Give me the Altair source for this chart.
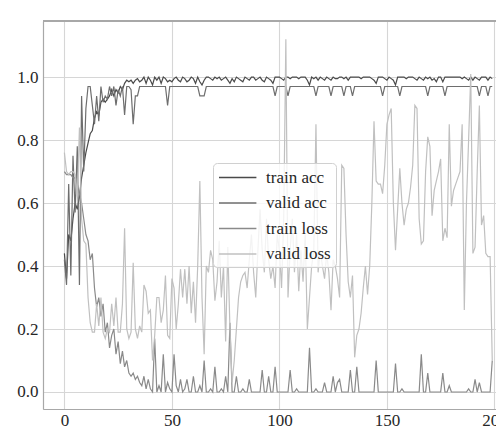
import altair as alt
import pandas as pd

epochs = list(range(200))

train_acc = [
    0.44, 0.36, 0.50, 0.48, 0.55, 0.60, 0.58, 0.62, 0.68, 0.72,
    0.76, 0.79, 0.82, 0.83, 0.87, 0.89, 0.88, 0.92, 0.93, 0.92,
    0.93, 0.94, 0.96, 0.94, 0.96, 0.95, 0.97, 0.96, 0.98, 0.99,
    0.985, 0.99, 0.98, 0.99, 0.995, 0.985, 0.99, 1.0, 0.98, 1.0,
    0.99, 0.975, 1.0, 0.99, 1.0, 0.98, 1.0, 0.995, 0.985, 0.99,
    0.985, 0.995, 1.0, 0.99, 0.985, 1.0, 0.995, 0.985, 0.99, 1.0,
    0.995, 0.98, 1.0, 0.985, 0.975, 0.99, 1.0, 1.0, 0.995, 0.99,
    1.0, 0.995, 1.0, 0.99, 0.995, 1.0, 0.99, 0.98, 0.995, 0.985,
    1.0, 0.995, 0.99, 0.985, 1.0, 0.995, 0.99, 1.0, 1.0, 0.99,
    0.995, 1.0, 0.99, 0.985, 1.0, 0.995, 0.99, 0.98, 1.0, 1.0,
    1.0, 0.995, 0.99, 1.0, 1.0, 0.995, 1.0, 1.0, 1.0, 0.995,
    1.0, 1.0, 1.0, 0.99, 0.975, 1.0, 0.995, 1.0, 0.99, 1.0,
    0.995, 0.99, 1.0, 0.995, 0.99, 1.0, 0.995, 0.995, 1.0, 1.0,
    0.995, 1.0, 0.99, 1.0, 1.0, 1.0, 1.0, 1.0, 0.995, 1.0,
    1.0, 1.0, 1.0, 0.995, 0.99, 0.98, 1.0, 1.0, 1.0, 0.995,
    0.99, 1.0, 0.995, 0.99, 0.975, 1.0, 1.0, 1.0, 1.0, 0.995,
    1.0, 1.0, 1.0, 0.995, 0.99, 1.0, 0.995, 0.99, 1.0, 0.995,
    1.0, 0.99, 0.995, 0.985, 1.0, 1.0, 0.985, 1.0, 1.0, 1.0,
    1.0, 1.0, 1.0, 1.0, 1.0, 0.995, 1.0, 0.995, 0.99, 1.0,
    0.99, 1.0, 0.995, 0.99, 1.0, 1.0, 1.0, 0.99, 1.0, 0.995,
]

valid_acc = [
    0.42, 0.34, 0.66, 0.37, 0.75, 0.57, 0.78, 0.34, 0.94, 0.70,
    0.90, 0.97, 0.97, 0.91, 0.85, 0.94, 0.86, 0.97, 0.92, 0.94,
    0.93, 0.97, 0.94, 0.97, 0.91, 0.96, 0.94, 0.97, 0.88, 0.97,
    0.97, 0.96, 0.85, 0.94, 0.94, 0.97, 0.97, 0.97, 0.97, 0.97,
    0.97, 0.97, 0.97, 0.97, 0.97, 0.97, 0.97, 0.97, 0.91, 0.97,
    0.97, 0.97, 0.97, 0.97, 0.97, 0.97, 0.97, 0.97, 0.97, 0.97,
    0.97, 0.97, 0.97, 0.94, 0.94, 0.94, 0.97, 0.97, 0.97, 0.97,
    0.97, 0.97, 0.97, 0.97, 0.97, 0.97, 0.97, 0.97, 0.97, 0.97,
    0.97, 0.97, 0.97, 0.97, 0.97, 0.97, 0.97, 0.97, 0.97, 0.97,
    0.97, 0.97, 0.97, 0.97, 0.97, 0.97, 0.97, 0.97, 0.94, 0.97,
    0.97, 0.97, 0.97, 0.97, 0.94, 0.97, 0.97, 0.97, 0.97, 0.97,
    0.97, 0.97, 0.97, 0.97, 0.97, 0.97, 0.97, 0.94, 0.97, 0.97,
    0.97, 0.97, 0.97, 0.97, 0.94, 0.97, 0.97, 0.97, 0.97, 0.97,
    0.94, 0.97, 0.97, 0.97, 0.94, 0.97, 0.97, 0.97, 0.97, 0.97,
    0.97, 0.97, 0.97, 0.97, 0.97, 0.97, 0.97, 0.97, 0.94, 0.97,
    0.97, 0.97, 0.97, 0.97, 0.97, 0.97, 0.94, 0.97, 0.97, 0.97,
    0.97, 0.97, 0.97, 0.97, 0.97, 0.97, 0.97, 0.97, 0.97, 0.94,
    0.97, 0.97, 0.97, 0.97, 0.97, 0.97, 0.97, 0.94, 0.97, 0.97,
    0.97, 0.97, 0.97, 0.97, 0.97, 0.97, 0.97, 0.97, 0.97, 0.97,
    0.97, 0.97, 0.97, 0.94, 0.97, 0.97, 0.97, 0.94, 0.97, 0.97,
]

train_loss = [
    0.70, 0.69, 0.69, 0.69, 0.68, 0.68, 0.66, 0.63, 0.60, 0.55,
    0.50, 0.48, 0.42, 0.44, 0.33, 0.27, 0.30, 0.24, 0.28, 0.19,
    0.22, 0.14, 0.18, 0.20, 0.12, 0.16, 0.09, 0.13, 0.08, 0.10,
    0.06, 0.05, 0.06, 0.04, 0.05, 0.03, 0.02, 0.05, 0.01, 0.04,
    0.01, 0.0, 0.17, 0.0, 0.02, 0.0, 0.12, 0.0, 0.03, 0.01,
    0.0, 0.12, 0.02, 0.0, 0.04, 0.0, 0.01, 0.04, 0.0, 0.0,
    0.05, 0.0, 0.0, 0.02, 0.0, 0.10, 0.0, 0.0, 0.01, 0.0,
    0.08, 0.0, 0.0, 0.01, 0.0, 0.05, 0.0, 0.22, 0.0, 0.0,
    0.05, 0.0, 0.0, 0.01, 0.0, 0.0, 0.04, 0.0, 0.0, 0.0,
    0.0, 0.0, 0.07, 0.0, 0.0, 0.05, 0.0, 0.0, 0.08, 0.0,
    0.0, 0.0, 0.0, 0.0, 0.0, 0.07, 0.0, 0.0, 0.01, 0.0,
    0.0, 0.0, 0.0, 0.0, 0.14, 0.0, 0.0, 0.01, 0.0, 0.0,
    0.0, 0.03, 0.0, 0.0, 0.0, 0.05, 0.0, 0.03, 0.04, 0.0,
    0.0, 0.0, 0.0, 0.07, 0.0, 0.0, 0.08, 0.0, 0.0, 0.0,
    0.0, 0.0, 0.0, 0.0, 0.0, 0.10, 0.0, 0.0, 0.0, 0.0,
    0.0, 0.0, 0.0, 0.0, 0.09, 0.0, 0.0, 0.01, 0.0, 0.0,
    0.0, 0.0, 0.0, 0.0, 0.0, 0.0, 0.12, 0.0, 0.0, 0.06,
    0.0, 0.0, 0.0, 0.0, 0.0, 0.0, 0.06, 0.0, 0.0, 0.02,
    0.0, 0.0, 0.0, 0.0, 0.0, 0.0, 0.0, 0.0, 0.01, 0.0,
    0.0, 0.04, 0.0, 0.03, 0.0, 0.0, 0.0, 0.0, 0.0, 0.10,
]

valid_loss = [
    0.76, 0.70, 0.69, 0.70, 0.70, 0.69, 0.62, 0.84, 0.55, 0.48,
    0.47, 0.30, 0.22, 0.19, 0.19, 0.28, 0.21, 0.30, 0.19, 0.17,
    0.20, 0.19, 0.28, 0.21, 0.30, 0.19, 0.19, 0.28, 0.52, 0.20,
    0.17, 0.19, 0.41, 0.20, 0.17, 0.21, 0.19, 0.34, 0.32, 0.25,
    0.26, 0.10, 0.18, 0.30, 0.30, 0.22, 0.26, 0.37, 0.18, 0.17,
    0.36, 0.33, 0.20, 0.28, 0.39, 0.30, 0.39, 0.28, 0.40, 0.25,
    0.35, 0.22, 0.40, 0.67, 0.30, 0.12, 0.40, 0.38, 0.45, 0.42,
    0.29, 0.35, 0.48, 0.30, 0.40, 0.16, 0.46, 0.20, 0.03, 0.10,
    0.20, 0.30, 0.35, 0.37, 0.38, 0.33, 0.42, 0.50, 0.38, 0.30,
    0.45, 0.58, 0.45, 0.38, 0.55, 0.42, 0.36, 0.40, 0.33, 0.50,
    0.45, 0.33, 0.55, 1.12, 0.30, 0.45, 0.55, 0.38, 0.50, 0.32,
    0.45, 0.35, 0.50, 0.20, 0.30, 0.40, 0.45, 0.85, 0.38, 0.45,
    0.40, 0.36, 0.44, 0.38, 0.26, 0.42, 0.40, 0.36, 0.30, 0.72,
    0.71, 0.50, 0.35, 0.30, 0.37, 0.11, 0.18, 0.20, 0.25, 0.33,
    0.40, 0.31, 0.40, 0.60, 0.86, 0.67, 0.66, 0.66, 0.63, 0.72,
    0.85, 0.88, 0.90, 0.60, 0.45, 0.58, 0.71, 0.60, 0.53, 0.58,
    0.60, 0.65, 0.72, 0.91, 0.90, 0.55, 0.47, 0.48, 0.70, 0.81,
    0.78, 0.56, 0.64, 0.67, 0.70, 0.74, 0.48, 0.52, 0.49, 0.85,
    0.59, 0.64, 0.66, 0.68, 0.70, 0.85, 0.26, 0.60, 0.80, 1.01,
    0.44, 0.46, 0.70, 0.91, 0.53, 0.56, 0.44, 0.43, 0.43, 0.10,
]

series_names = ["train acc", "valid acc", "train loss", "valid loss"]
series_colors = ["#4a4a4a", "#6e6e6e", "#8a8a8a", "#c0c0c0"]
x_ticks = [0, 50, 100, 150, 200]
y_ticks = [0.0, 0.2, 0.4, 0.6, 0.8, 1.0]

rows = []
for name, vals in zip(series_names, [train_acc, valid_acc, train_loss, valid_loss]):
    for e, v in zip(epochs, vals):
        rows.append({"epoch": e, "value": v, "series": name})
df = pd.DataFrame(rows)

W, H = 453, 388
FONT = "Liberation Serif"

lines = alt.Chart(df).mark_line(strokeWidth=1.2).encode(
    x=alt.X("epoch:Q",
            scale=alt.Scale(domain=[-9.95, 200.74], nice=False, zero=False),
            axis=alt.Axis(values=x_ticks, title=None, ticks=False, domain=True,
                          domainColor="#a8a8a8", domainWidth=1.2,
                          grid=True, gridColor="#d6d6d6", gridWidth=1.1,
                          labelFont=FONT, labelFontSize=17, labelColor="#262626",
                          labelPadding=3, labelFlush=False, labelOverlap=False)),
    y=alt.Y("value:Q",
            scale=alt.Scale(domain=[-0.054, 1.178], nice=False, zero=False),
            axis=alt.Axis(values=y_ticks, format=".1f", title=None, ticks=False,
                          domain=True, domainColor="#a8a8a8", domainWidth=1.2,
                          grid=True, gridColor="#d6d6d6", gridWidth=1.1,
                          labelFont=FONT, labelFontSize=17, labelColor="#262626",
                          labelPadding=5)),
    color=alt.Color("series:N",
                    scale=alt.Scale(domain=series_names, range=series_colors),
                    sort=series_names,
                    legend=alt.Legend(title=None, orient="none", legendX=170, legendY=142,
                                      symbolType="M-1,0H3.4", symbolSize=289,
                                      symbolStrokeWidth=1.5, labelFont=FONT,
                                      labelFontSize=17, labelColor="#262626",
                                      labelOffset=29, rowPadding=7.5, padding=5,
                                      fillColor="rgba(255,255,255,0.8)",
                                      strokeColor="#d0d0d0", cornerRadius=4)),
    detail="series:N",
)

top_border = alt.Chart(df).mark_rule(color="#a8a8a8", strokeWidth=1.2).encode(
    x=alt.value(0), x2=alt.value(W), y=alt.value(0)
)

chart = alt.layer(lines, top_border).properties(
    width=W, height=H,
    autosize=alt.AutoSizeParams(type="none"),
    padding={"left": 35, "top": 13, "right": 0, "bottom": 17},
).configure_view(strokeWidth=0).configure(background="white")

chart.save("out.html", embed_options={"renderer": "svg", "actions": False})
